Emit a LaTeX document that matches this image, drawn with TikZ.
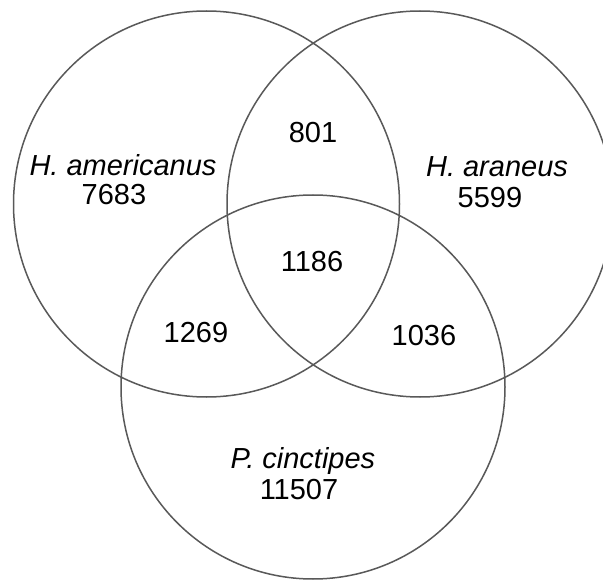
\documentclass[tikz,border=0pt]{standalone}
\usepackage{fontspec}
\setmainfont{Liberation Sans}
\begin{document}
\begin{tikzpicture}[x=1pt,y=-1pt,
  venn/.style={draw=black!65, line width=1.5pt, circle, inner sep=0pt},
  lbl/.style={font=\fontsize{29}{32}\selectfont, inner sep=0pt, text=black},
  sp/.style={lbl, font=\fontsize{29}{32}\selectfont\itshape}]
\useasboundingbox (0,0) rectangle (603,580);
\clip (0,0) rectangle (603,580);
\fill[white] (0,0) rectangle (603,580);
\node[venn, minimum size=386pt] (ha) at (206.5,204) {};
\node[venn, minimum size=386pt] (har) at (420,204) {};
\node[venn, minimum size=384pt] (pc) at (313,387) {};
\node[sp]  (haname) at (123,165) {H. americanus};
\node[lbl] (hanum)  at (114,195) {7683};
\node[lbl] (ab)     at (313,133) {801};
\node[sp]  (arname) at (497,167) {H. araneus};
\node[lbl] (arnum)  at (490,198) {5599};
\node[lbl] (abc)    at (312,262) {1186};
\node[lbl] (ac)     at (196,333) {1269};
\node[lbl] (bc)     at (424,336) {1036};
\node[sp]  (pcname) at (303,461) {P. cinctipes};
\node[lbl] (pcnum)  at (299,490) {11507};
\end{tikzpicture}
\end{document}
